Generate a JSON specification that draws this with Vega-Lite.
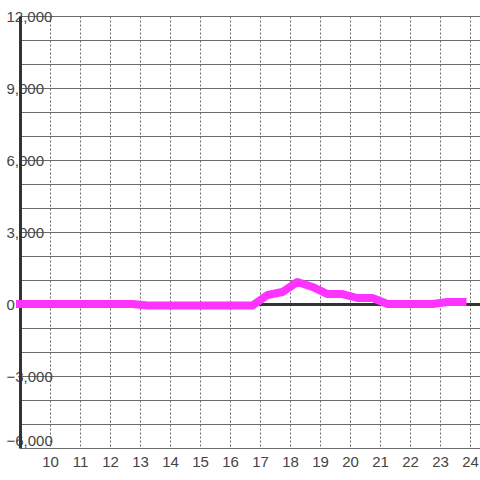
{
  "$schema": "https://vega.github.io/schema/vega-lite/v6.json",
  "width": 460,
  "height": 432,
  "autosize": {"type": "none"},
  "padding": {"left": 20, "top": 16, "right": 0, "bottom": 32},
  "background": "white",
  "config": {"view": {"stroke": null}},
  "data": {"values": [
    {"hour": 9.0, "value": 0},
    {"hour": 9.25, "value": 0},
    {"hour": 9.75, "value": 0},
    {"hour": 10.25, "value": 0},
    {"hour": 10.75, "value": 0},
    {"hour": 11.25, "value": 0},
    {"hour": 11.75, "value": 0},
    {"hour": 12.25, "value": 0},
    {"hour": 12.75, "value": 0},
    {"hour": 13.25, "value": -60},
    {"hour": 13.75, "value": -60},
    {"hour": 14.25, "value": -60},
    {"hour": 14.75, "value": -60},
    {"hour": 15.25, "value": -60},
    {"hour": 15.75, "value": -60},
    {"hour": 16.25, "value": -60},
    {"hour": 16.75, "value": -60},
    {"hour": 17.25, "value": 375},
    {"hour": 17.75, "value": 500},
    {"hour": 18.25, "value": 920},
    {"hour": 18.75, "value": 710},
    {"hour": 19.25, "value": 415},
    {"hour": 19.75, "value": 415},
    {"hour": 20.25, "value": 250},
    {"hour": 20.75, "value": 250},
    {"hour": 21.25, "value": 0},
    {"hour": 21.75, "value": 0},
    {"hour": 22.25, "value": 0},
    {"hour": 22.75, "value": 0},
    {"hour": 23.25, "value": 85},
    {"hour": 23.75, "value": 85}
  ]},
  "mark": {"type": "line", "color": "#ff33ff", "strokeWidth": 8, "strokeCap": "square", "strokeJoin": "round"},
  "encoding": {
    "x": {
      "field": "hour", "type": "quantitative",
      "scale": {"domain": [9, 24.3333], "nice": false, "zero": false},
      "axis": {
        "title": null,
        "values": [10, 11, 12, 13, 14, 15, 16, 17, 18, 19, 20, 21, 22, 23, 24],
        "domain": false,
        "ticks": false,
        "tickSize": 0,
        "grid": true,
        "gridColor": "#666666",
        "gridDash": [2, 2],
        "gridWidth": 1,
        "labelFont": "Liberation Sans",
        "labelFontSize": 15,
        "labelColor": "#444444",
        "labelPadding": 6,
        "labelFlush": false,
        "labelOverlap": false
      }
    },
    "y": {
      "field": "value", "type": "quantitative",
      "scale": {"domain": [-6000, 12000], "nice": false},
      "axis": {
        "title": null,
        "values": [-6000, -5000, -4000, -3000, -2000, -1000, 0, 1000, 2000, 3000, 4000, 5000, 6000, 7000, 8000, 9000, 10000, 11000, 12000],
        "labelExpr": "datum.value % 3000 == 0 ? format(datum.value, ',') : ''",
        "ticks": false,
        "tickSize": 0,
        "domain": true,
        "domainColor": "#333333",
        "domainWidth": 3,
        "grid": true,
        "gridColor": {"condition": {"test": "datum.value == 0", "value": "#333333"}, "value": "#6b6b6b"},
        "gridWidth": {"condition": {"test": "datum.value == 0", "value": 3}, "value": 1},
        "labelAlign": "left",
        "labelPadding": 14,
        "labelBaseline": {"condition": {"test": "datum.value == -6000", "value": "bottom"}, "value": "middle"},
        "labelFont": "Liberation Sans",
        "labelFontSize": 15,
        "labelColor": "#444444",
        "labelFlush": false,
        "labelOverlap": false,
        "labelBound": false
      }
    }
  }
}
